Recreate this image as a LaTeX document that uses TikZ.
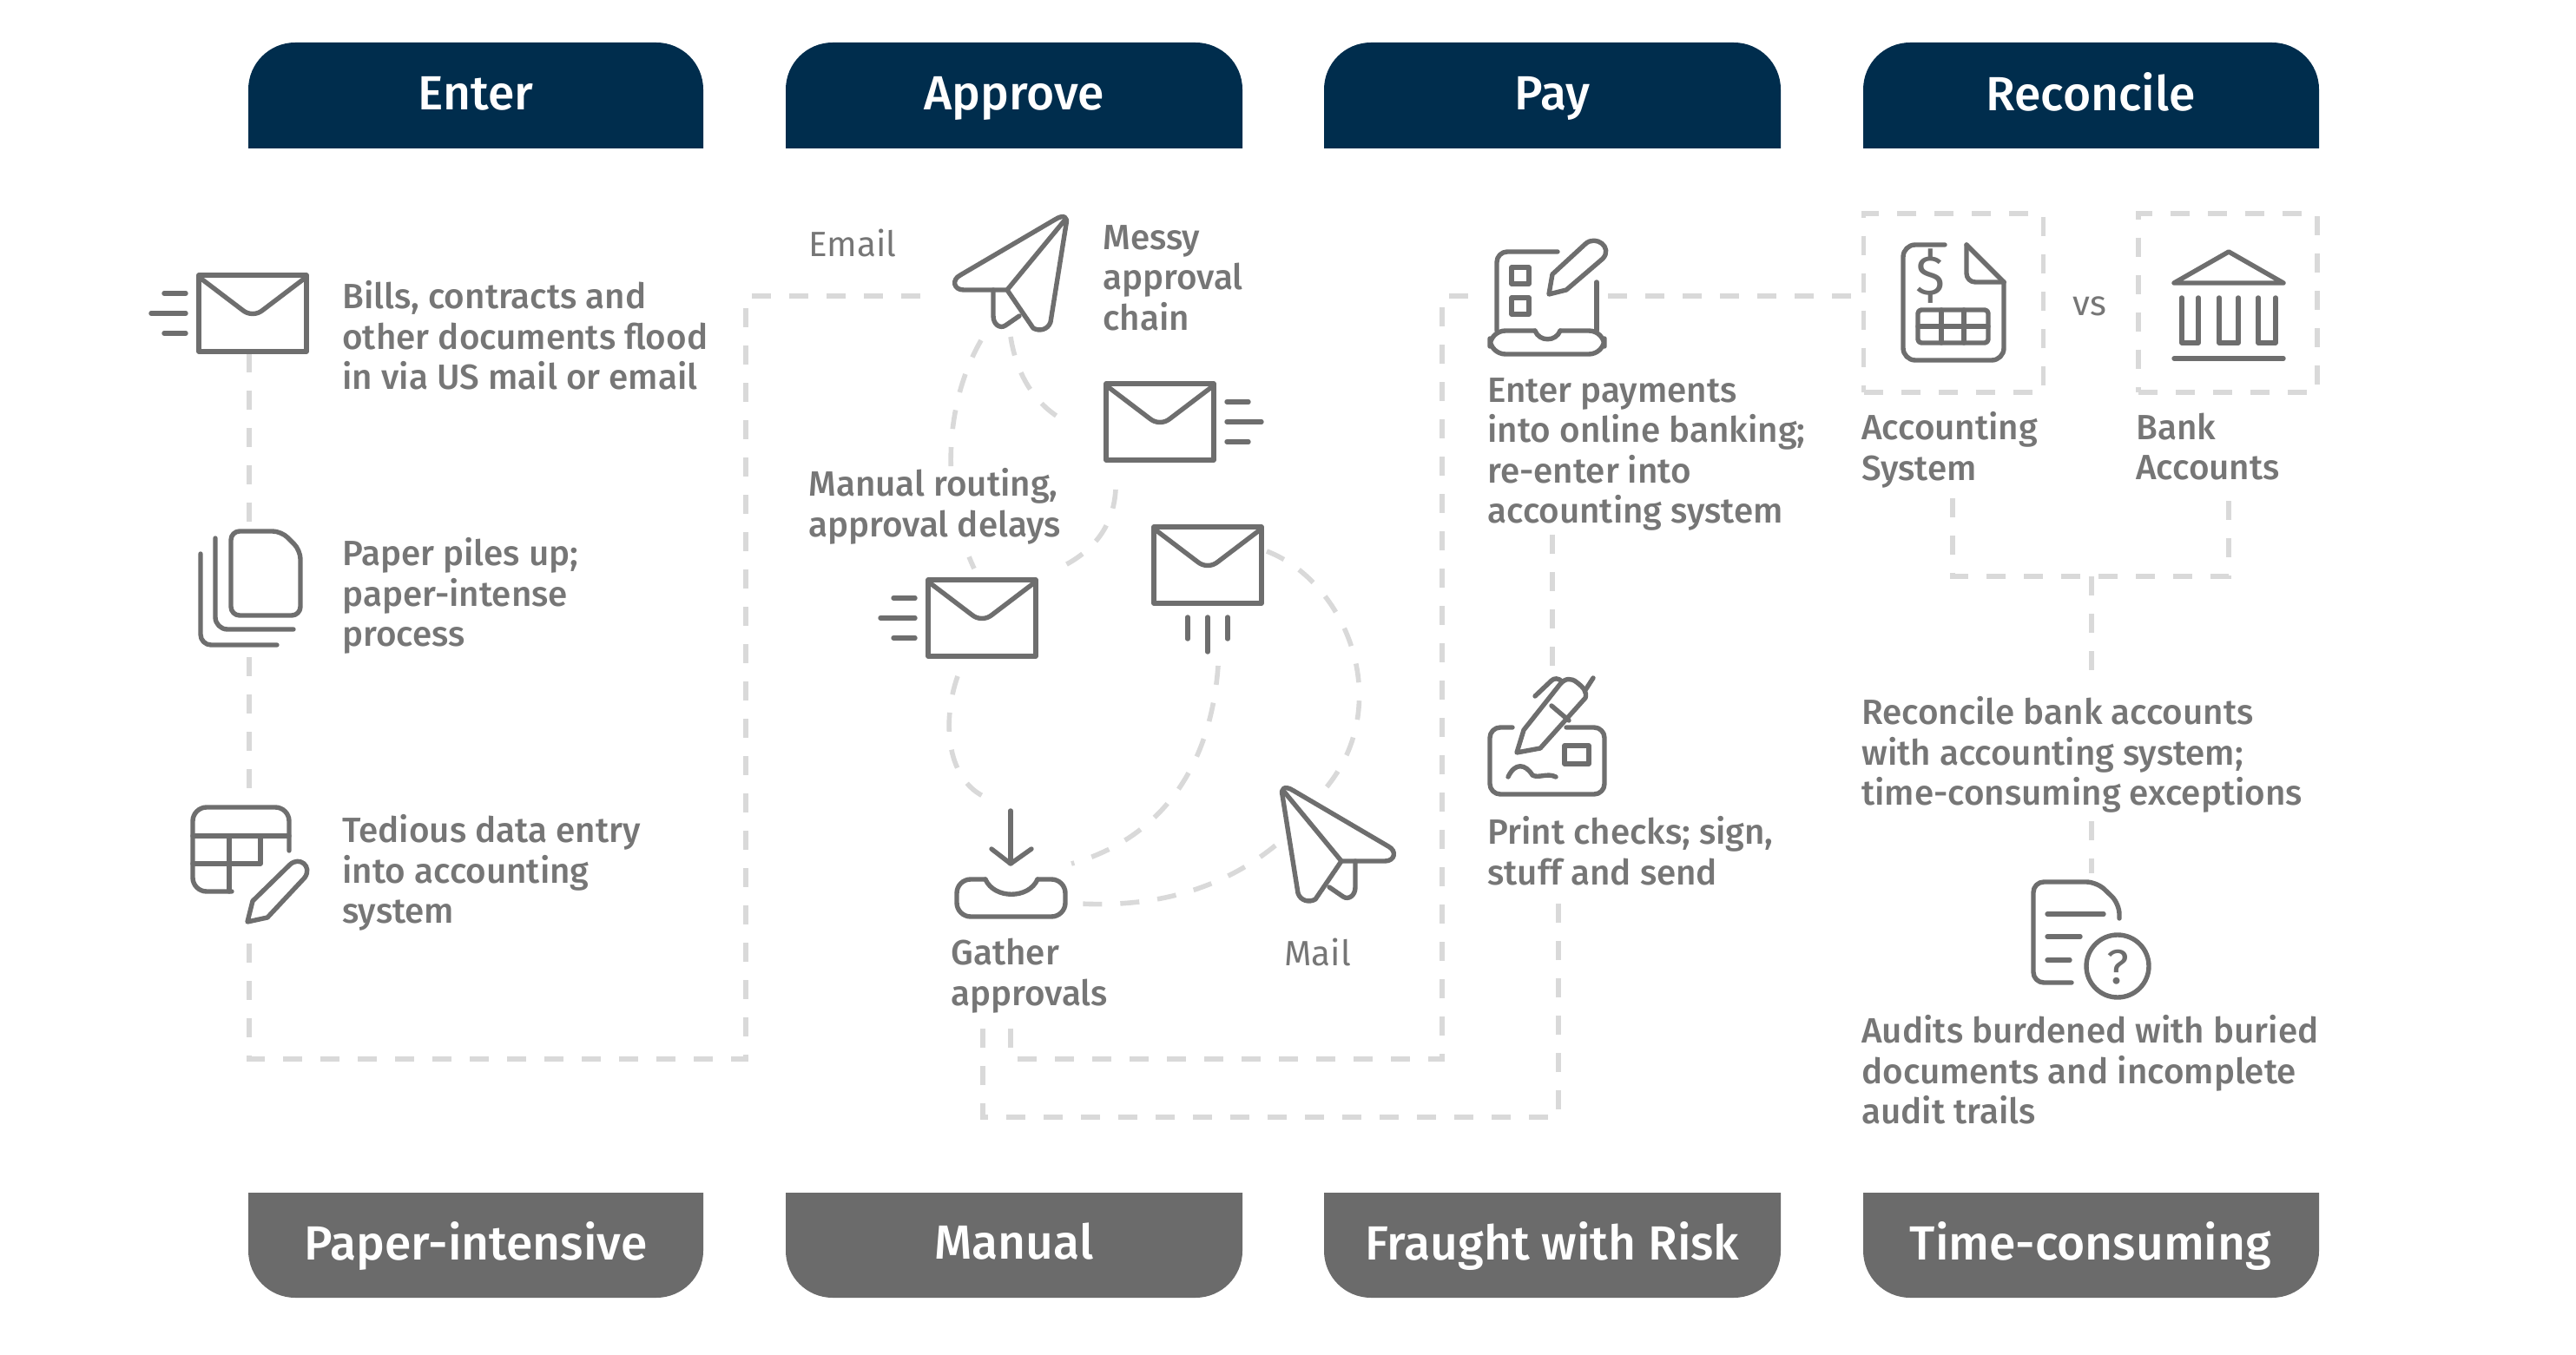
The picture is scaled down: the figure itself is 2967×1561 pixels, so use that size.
\documentclass[tikz,border=0pt]{standalone}
\usepackage{fontspec}
\setmainfont{Fira Sans}[UprightFont=* Medium]
\newfontfamily\thinfont{Fira Sans}
\usepackage{tikz}
\usetikzlibrary{arrows.meta,positioning}
\definecolor{navyhead}{HTML}{002D4D}
\definecolor{greyfoot}{HTML}{6B6B6B}
\definecolor{greyicon}{HTML}{6E6E6E}
\definecolor{greytext}{HTML}{767676}
\definecolor{greydash}{HTML}{D9D9D9}
\tikzset{
  flow/.style={draw=greydash,line width=2.8pt,dash pattern=on 11pt off 10.5pt},
  icon/.style={draw=greyicon,line width=2.7pt,line cap=round,line join=round},
  anchorbox/.style={inner sep=0pt,minimum width=#1},
  lbl/.style={anchor=west,align=left,inner sep=0pt,yshift=-3pt,text=greytext,font=\fontsize{20.2}{23.25}\selectfont,
    execute at begin node=\strut,execute at end node=\strut},
  thin lbl/.style={lbl,font=\thinfont\fontsize{20.2}{23.25}\selectfont},
  head/.style={inner sep=0pt,text=white,font=\fontsize{27.6}{30}\selectfont,
    execute at begin node=\strut},
  pics/envmail/.style={code={
    \draw[icon] (-62,-44) rectangle (62,44);
    \draw[icon] (-62,-42) -- (-12,-4) .. controls (-5,2) and (5,2) .. (12,-4) -- (62,-42);
  }},
  pics/speedlines/.style={code={
    \draw[icon] (0,-23) -- (-25,-23);
    \draw[icon] (0,0) -- (-40,0);
    \draw[icon] (0,23) -- (-25,23);
  }},
  pics/planeicon/.style={code={
    \draw[icon] (0,0) -- (-50,0) .. controls (-62,0) and (-64,-12) .. (-54,-17) -- (55,-81)
      .. controls (66,-88) and (70,-83) .. (68,-76) -- (50,37)
      .. controls (47,46) and (37,48) .. (30,44) -- cycle;
    \draw[icon] (0,0) -- (66,-80);
    \draw[icon] (-16,0) -- (-16,30) .. controls (-16,40) and (-8,45) .. (-2,41) -- (14,30);
  }}
}
\begin{document}
\begin{tikzpicture}[x=0.5pt,y=-0.5pt]
  \useasboundingbox (0,0) rectangle (2967,1561);
  % column headers
  \fill[navyhead] (286,171) [rounded corners=27pt] -- (286,49) -- (810,49) [sharp corners] -- (810,171) -- cycle;
  \fill[navyhead] (905,171) [rounded corners=27pt] -- (905,49) -- (1431,49) [sharp corners] -- (1431,171) -- cycle;
  \fill[navyhead] (1525,171) [rounded corners=27pt] -- (1525,49) -- (2051,49) [sharp corners] -- (2051,171) -- cycle;
  \fill[navyhead] (2146,171) [rounded corners=27pt] -- (2146,49) -- (2671,49) [sharp corners] -- (2671,171) -- cycle;
  \node[head] (hEnter) at (548,115) {Enter};
  \node[head] (hApprove) at (1168,115) {Approve};
  \node[head] (hPay) at (1788,115) {Pay};
  \node[head] (hRecon) at (2408,115) {Reconcile};
  % column footers
  \fill[greyfoot] (286,1374) [rounded corners=27pt] -- (286,1495) -- (810,1495) [sharp corners] -- (810,1374) -- cycle;
  \fill[greyfoot] (905,1374) [rounded corners=27pt] -- (905,1495) -- (1431,1495) [sharp corners] -- (1431,1374) -- cycle;
  \fill[greyfoot] (1525,1374) [rounded corners=27pt] -- (1525,1495) -- (2051,1495) [sharp corners] -- (2051,1374) -- cycle;
  \fill[greyfoot] (2146,1374) [rounded corners=27pt] -- (2146,1495) -- (2671,1495) [sharp corners] -- (2671,1374) -- cycle;
  \node[head] (fEnter) at (548,1438) {Paper-intensive};
  \node[head] (fApprove) at (1168,1438) {Manual};
  \node[head] (fPay) at (1788,1438) {Fraught with Risk};
  \node[head] (fRecon) at (2408,1438) {Time-consuming};
  % boxes the connectors stop at
  \node[anchorbox=70pt,minimum height=44.5pt] (envA) at (287,362) {};
  \node[anchorbox=70pt,minimum height=75pt] (paperB) at (287,682) {};
  \node[anchorbox=70pt,minimum height=81pt] (tableC) at (287,1006) {};
  \node[anchorbox=90pt,minimum height=30pt] (planeA) at (1165,341) {};
  \node[anchorbox=70pt,minimum height=70pt] (laptopP) at (1782,341) {};
  \node[anchorbox=70pt,minimum height=78pt] (checkP) at (1788,845) {};
  \node[anchorbox=103.5pt,minimum height=102.75pt,flow] (acctBox) at (2250,349) {};
  \node[anchorbox=103pt,minimum height=102.75pt,flow] (bankBox) at (2566,349) {};
  \coordinate (cA) at (287,1220);
  \coordinate (cB) at (859,1220);
  \coordinate (cC) at (859,341);
  \coordinate (gA) at (1164,1185);
  \coordinate (gB) at (1164,1220);
  \coordinate (gC) at (1661,1220);
  \coordinate (gD) at (1661,341);
  \coordinate (kA) at (1132,1185);
  \coordinate (kB) at (1132,1287);
  \coordinate (kC) at (1795,1287);
  \coordinate (kD) at (1795,1034);
  \coordinate (payOut) at (1788,616);
  \coordinate (jA) at (2249,574);
  \coordinate (jB) at (2249,664);
  \coordinate (jC) at (2567,664);
  \coordinate (jD) at (2567,574);
  \coordinate (jM) at (2409,664);
  \coordinate (rA) at (2409,781);
  \coordinate (rB) at (2409,946);
  \coordinate (rC) at (2409,1006);
  \coordinate (p1) at (1130,392);
  \coordinate (p2) at (1122,655);
  \coordinate (p3) at (1164,388);
  \coordinate (p4) at (1231,487);
  \coordinate (p5) at (1285,564);
  \coordinate (p6) at (1219,655);
  \coordinate (p7) at (1103,779);
  \coordinate (p8) at (1132,917);
  \coordinate (p9) at (1403,767);
  \coordinate (p10) at (1234,995);
  \coordinate (p11) at (1459,635);
  \coordinate (p12) at (1527,908);
  \coordinate (p13) at (1469,974);
  \coordinate (p14) at (1243,1041);
  % dashed connectors
  \draw[flow] (envA) -- (paperB);
  \draw[flow] (paperB) -- (tableC);
  \draw[flow] (tableC) -- (cA) -- (cB) -- (cC) -- (planeA);
  \draw[flow] (gA) -- (gB) -- (gC) -- (gD) -- (laptopP);
  \draw[flow] (kA) -- (kB) -- (kC) -- (kD);
  \draw[flow] (laptopP.east) -- (acctBox.west |- laptopP.east);
  \draw[flow] (payOut) -- (checkP);
  \draw[flow] (jA) -- (jB) -- (jC) -- (jD);
  \draw[flow] (jM) -- (rA);
  \draw[flow] (rB) -- (rC);
  \draw[flow] (p1) .. controls (1085,470) and (1085,576) .. (p2);
  \draw[flow] (p3) .. controls (1172,440) and (1200,473) .. (p4);
  \draw[flow] (p5) .. controls (1282,615) and (1250,640) .. (p6);
  \draw[flow] (p7) .. controls (1085,830) and (1090,895) .. (p8);
  \draw[flow] (p9) .. controls (1395,880) and (1340,965) .. (p10);
  \draw[flow] (p11) .. controls (1550,670) and (1608,810) .. (p12);
  \draw[flow] (p13) .. controls (1400,1030) and (1320,1045) .. (p14);
  % mail icons
  \pic at (291,361) {envmail};
  \pic at (214,361) {speedlines};
  \pic at (1336,486) {envmail};
  \pic[rotate=180] at (1413,486) {speedlines};
  \pic at (1131,712) {envmail};
  \pic at (1054,712) {speedlines};
  \pic at (1391,651) {envmail};
  \pic[rotate=90] at (1391,711) {speedlines};
  \pic at (1160,334) {planeicon};
  \pic[xscale=-1] at (1545,992) {planeicon};
  % stacked paper
  \draw[icon,rounded corners=5pt] (266,612) -- (324,612) -- (346,634) -- (346,709) -- (266,709) -- cycle;
  \draw[icon,rounded corners=7pt] (248,620) -- (248,725) -- (338,725);
  \draw[icon,rounded corners=6pt] (231,638) -- (231,743) -- (319,743);
  % table and pencil
  \draw[icon,rounded corners=8pt] (333,980) -- (333,930) -- (222,930) -- (222,1027) -- (267,1027);
  \draw[icon] (222,963) -- (333,963);
  \draw[icon] (222,995) -- (300,995) -- (300,963);
  \draw[icon] (264,963) -- (264,1027);
  \draw[icon] (285,1062) -- (291,1038) -- (334,996) .. controls (345,986) and (360,998) .. (351,1011) -- (308,1057) -- cycle;
  % inbox tray
  \draw[icon] (1164,934) -- (1164,995);
  \draw[icon] (1142,978) -- (1164,995) -- (1188,978);
  \draw[icon,rounded corners=8pt] (1135,1013) -- (1102,1013) -- (1102,1056) -- (1227,1056) -- (1227,1013) -- (1195,1013);
  \draw[icon] (1135,1013) .. controls (1145,1036) and (1185,1036) .. (1195,1013);
  % laptop with form and pencil
  \draw[icon,rounded corners=6pt] (1794,290) -- (1724,290) -- (1724,381);
  \draw[icon] (1839,325) -- (1839,381);
  \draw[icon,rounded corners=9pt] (1768,381) -- (1716,381) -- (1716,408) -- (1848,408) -- (1848,381) -- (1797,381);
  \draw[icon] (1768,381) .. controls (1773,394) and (1792,394) .. (1797,381);
  \draw[icon] (1741,308) rectangle (1761,327);
  \draw[icon] (1741,343) rectangle (1761,362);
  \draw[icon] (1784,339) -- (1788,316) -- (1826,281) .. controls (1838,270) and (1858,285) .. (1846,298) -- (1804,334) -- cycle;
  % signed check
  \draw[icon,rounded corners=6pt] (1742,838) -- (1716,838) -- (1716,915) -- (1848,915) -- (1848,838) -- (1804,838);
  \draw[icon] (1802,859) rectangle (1830,880);
  \draw[icon] (1737,895) .. controls (1745,878) and (1757,880) .. (1765,893) .. controls (1772,897) and (1782,890) .. (1792,895);
  \draw[icon] (1747,867) -- (1755,841) -- (1797,788) .. controls (1803,781) and (1810,781) .. (1816,786) .. controls (1824,792) and (1828,797) .. (1826,804) -- (1774,862) -- cycle;
  \draw[icon] (1768,802) -- (1787,784) .. controls (1790,781) and (1795,781) .. (1799,785);
  \draw[icon] (1826,795) -- (1835,781);
  \draw[icon] (1787,813) -- (1807,830);
  % accounting sheet
  \draw[icon,rounded corners=7pt] (2240,282) -- (2192,282) -- (2192,415) -- (2308,415) -- (2308,325);
  \draw[icon] (2265,282) -- (2308,325);
  \draw[icon,rounded corners=5pt] (2265,282) -- (2265,325) -- (2308,325);
  \node[inner sep=0pt,text=greyicon,font=\thinfont\fontsize{32}{34}\selectfont] (dollar) at (2223,318) {\$};
  \draw[icon,rounded corners=2pt] (2209,357) rectangle (2290,395);
  \draw[icon] (2209,376) -- (2290,376);
  \draw[icon] (2236,357) -- (2236,395);
  \draw[icon] (2262,357) -- (2262,395);
  % bank
  \draw[icon] (2504,326) -- (2567,290) -- (2630,326) -- cycle;
  \draw[icon] (2513,343) -- (2513,395) -- (2532,395) -- (2532,343);
  \draw[icon] (2556,343) -- (2556,395) -- (2578,395) -- (2578,343);
  \draw[icon] (2601,343) -- (2601,395) -- (2621,395) -- (2621,343);
  \draw[icon] (2504,413) -- (2630,413);
  % audit document
  \draw[icon,rounded corners=6pt] (2386,1132) -- (2342,1132) -- (2342,1016) -- (2415,1016) -- (2441,1041) -- (2441,1058);
  \draw[icon] (2358,1053) -- (2423,1053);
  \draw[icon] (2358,1079) -- (2396,1079);
  \draw[icon] (2358,1106) -- (2384,1106);
  \draw[icon] (2439,1113) circle[radius=36];
  \node[inner sep=0pt,text=greyicon,font=\thinfont\fontsize{28}{30}\selectfont] (quest) at (2439,1114) {?};
  % labels
  \node[lbl] (billsLbl) at (394,387) {Bills, contracts and\\other documents flood\\in via US mail or email};
  \node[lbl] (pilesLbl) at (394,683) {Paper piles up;\\paper-intense\\process};
  \node[lbl] (dataLbl) at (394,1002) {Tedious data entry\\into accounting\\system};
  \node[thin lbl] (emailLbl) at (931,280) {Email};
  \node[lbl] (messyLbl) at (1270,321) {Messy\\approval\\chain};
  \node[lbl,fill=white] (routeLbl) at (931,580) {Manual routing,\\approval delays};
  \node[lbl] (gatherLbl) at (1095,1121) {Gather\\approvals};
  \node[thin lbl] (mailLbl) at (1479,1097) {Mail};
  \node[lbl] (payLbl) at (1713,520) {Enter payments\\into online banking;\\re-enter into\\accounting system};
  \node[lbl] (printLbl) at (1713,981) {Print checks; sign,\\stuff and send};
  \node[lbl] (acctLbl) at (2144,515) {Accounting\\System};
  \node[lbl] (bankLbl) at (2460,515) {Bank\\Accounts};
  \node[thin lbl,anchor=center] (vsLbl) at (2407,348) {vs};
  \node[lbl] (reconLbl) at (2144,866) {Reconcile bank accounts\\with accounting system;\\time-consuming exceptions};
  \node[lbl] (auditLbl) at (2144,1233) {Audits burdened with buried\\documents and incomplete\\audit trails};
\end{tikzpicture}
\end{document}
